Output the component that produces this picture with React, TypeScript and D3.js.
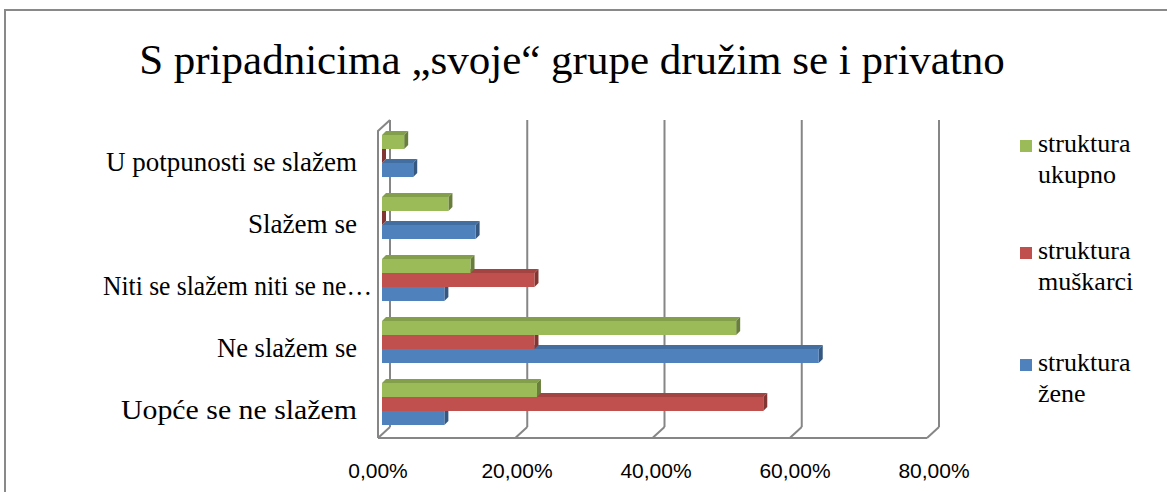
import React from "react";
import * as d3 from "d3";

const categories = [
  "Uopće se ne slažem",
  "Ne slažem se",
  "Niti se slažem niti se ne…",
  "Slažem se",
  "U potpunosti se slažem",
];
const ukupno = [22.58, 51.61, 12.9, 9.68, 3.23];
const muskarci = [55.56, 22.22, 22.22, 0, 0];
const zene = [9.09, 63.64, 9.09, 13.64, 4.55];
const seriesNames = ["struktura ukupno", "struktura muškarci", "struktura žene"];
const seriesColors = ["#9BBB59", "#C0504D", "#4F81BD"];
const xTicks = [0, 20, 40, 60, 80];
const title = "S pripadnicima „svoje“ grupe družim se i privatno";

// measured rendered widths of the category labels (layout only)
const labelWidths: Record<string, number> = {
  "Uopće se ne slažem": 236,
  "Ne slažem se": 140,
  "Niti se slažem niti se ne…": 269,
  "Slažem se": 109,
  "U potpunosti se slažem": 251,
};

const W = 1167;
const H = 492;
const locale = d3.formatLocale({ decimal: ",", thousands: ".", grouping: [3], currency: ["", ""] });
const fmt = (v: number) => locale.format(".2f")(v) + "%";

const SERIF = "Liberation Serif";
const SANS = "Liberation Sans";

export default function App() {
  const seriesValues = [ukupno, muskarci, zene];
  const xBack = d3.scaleLinear().domain([0, 80]).range([390, 939]);
  const xFront = d3.scaleLinear().domain([0, 80]).range([378, 927]);
  const xBar = d3.scaleLinear().domain([0, 80]).range([382, 931]);
  const xLabel = d3.scaleLinear().domain([0, 80]).range([378, 934]);
  const backTop = 120;
  const backBottom = 427;
  const frontTop = 131;
  const frontBottom = 438;

  const yCat = d3
    .scaleBand<string>()
    .domain([...categories].reverse())
    .range([125, 435])
    .paddingInner(0);
  const ySer = d3.scaleBand<string>().domain(seriesNames).range([10, 52]);
  const dx = 4;
  const dy = -4;

  const grey = "#868686";

  const bars: React.ReactNode[] = [];
  categories.forEach((cat, ci) => {
    for (let si = seriesNames.length - 1; si >= 0; si--) {
      const v = seriesValues[si][ci];
      const c = seriesColors[si];
      const y = (yCat(cat) as number) + (ySer(seriesNames[si]) as number);
      const h = ySer.bandwidth();
      const x0 = xBar(0);
      const x1 = xBar(v);
      const top = d3.color(c)!.darker(0.45).formatHex();
      const side = d3.color(c)!.darker(1.1).formatHex();
      bars.push(
        <g key={`${ci}-${si}`}>
          <polygon
            points={`${x0},${y} ${x0 + dx},${y + dy} ${x1 + dx},${y + dy} ${x1},${y}`}
            fill={top}
          />
          <polygon
            points={`${x1},${y} ${x1 + dx},${y + dy} ${x1 + dx},${y + h + dy} ${x1},${y + h}`}
            fill={side}
          />
          <rect x={x0} y={y} width={Math.max(0, x1 - x0)} height={h} fill={c} />
        </g>
      );
    }
  });

  const legendY = [152, 259, 371];

  return (
    <svg width={W} height={H} style={{ position: "absolute", left: 0, top: 0 }}>
      <rect x={0} y={0} width={W} height={H} fill="#ffffff" />
      <path d={`M5,${H} V10 H${W}`} fill="none" stroke="#898989" strokeWidth={2} />
      <text x={572} y={74} textAnchor="middle" style={{ fontFamily: SERIF, fontSize: 43 }} fill="#000">
        {title}
      </text>

      {xTicks.map((t) => (
        <line key={`g${t}`} x1={xBack(t)} x2={xBack(t)} y1={backTop} y2={backBottom} stroke={grey} strokeWidth={2} />
      ))}
      {xTicks.map((t) => (
        <line key={`d${t}`} x1={xBack(t)} y1={backBottom} x2={xFront(t)} y2={frontBottom} stroke={grey} strokeWidth={2} />
      ))}
      <line x1={xFront(0)} x2={xFront(80)} y1={frontBottom} y2={frontBottom} stroke={grey} strokeWidth={2} />
      <path
        d={`M${xFront(0)},${frontBottom} V${frontTop} L${xBack(0)},${backTop}`}
        fill="none"
        stroke={grey}
        strokeWidth={2}
      />

      {bars}

      {categories.map((cat) => {
        const xEnd = cat.endsWith("…") ? 372 : 357;
        const w = labelWidths[cat];
        return (
          <text
            key={cat}
            x={xEnd - w}
            y={(yCat(cat) as number) + yCat.bandwidth() / 2 + 15}
            textLength={w}
            lengthAdjust="spacingAndGlyphs"
            style={{ fontFamily: SERIF, fontSize: 27 }}
            fill="#000"
          >
            {cat}
          </text>
        );
      })}

      {xTicks.map((t) => (
        <text
          key={`t${t}`}
          x={xLabel(t)}
          y={478}
          textAnchor="middle"
          style={{ fontFamily: SANS, fontSize: 21 }}
          fill="#000"
        >
          {fmt(t)}
        </text>
      ))}

      {seriesNames.map((s, i) => {
        const [l1, l2] = s.split(" ");
        return (
          <g key={s}>
            <rect x={1020} y={legendY[i] - 12} width={12} height={12} fill={seriesColors[i]} />
            <text style={{ fontFamily: SERIF, fontSize: 26 }} fill="#000">
              <tspan x={1038} y={legendY[i]}>{l1}</tspan>
              <tspan x={1038} y={legendY[i] + 31}>{l2}</tspan>
            </text>
          </g>
        );
      })}
    </svg>
  );
}
